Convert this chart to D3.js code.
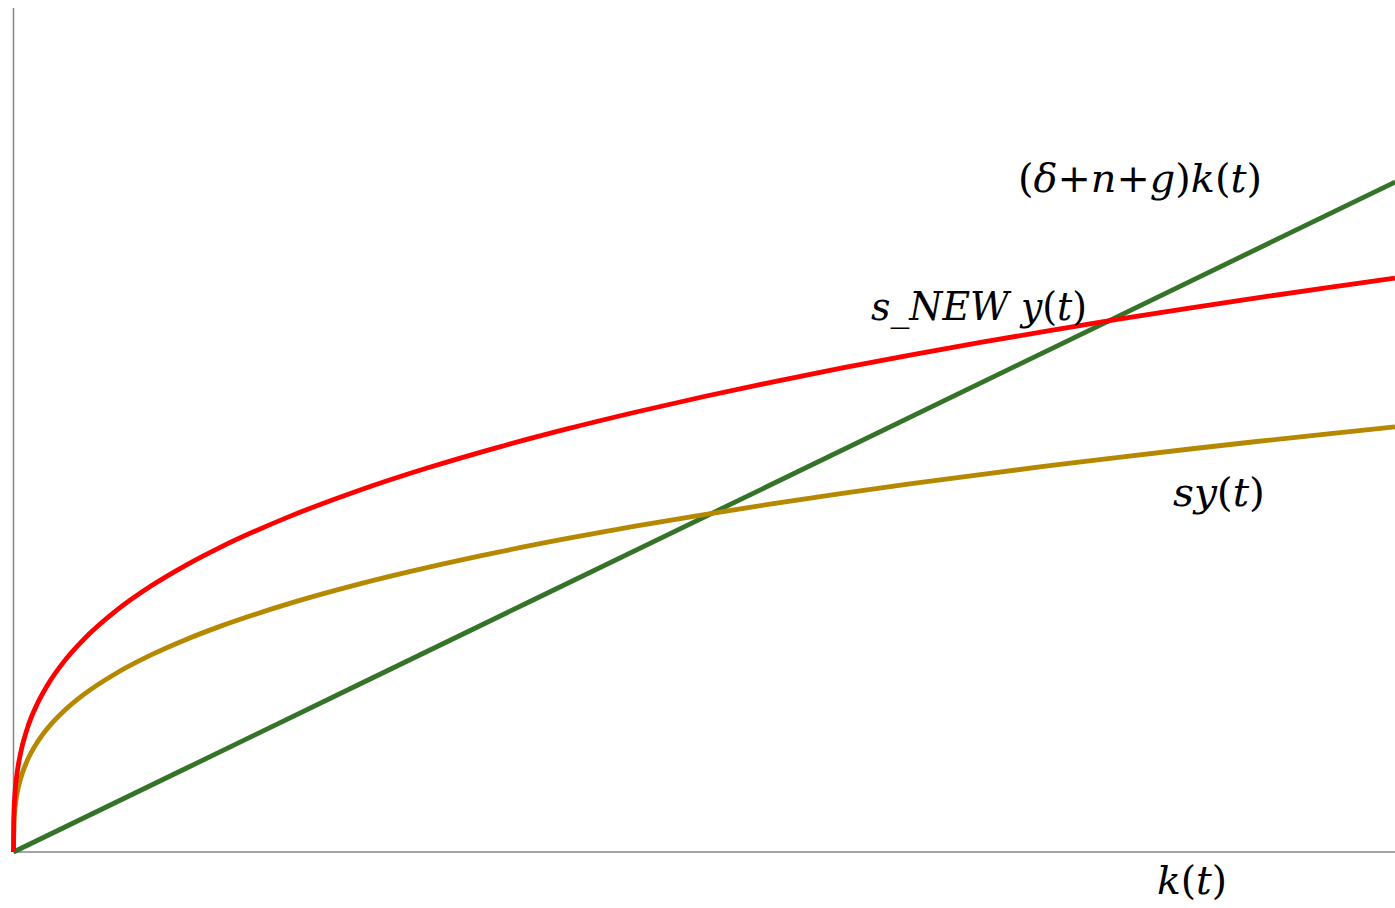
<!DOCTYPE html>
<html>
<head>
<meta charset="utf-8">
<script src="https://cdn.jsdelivr.net/npm/d3@7"></script>
<style>
  html, body { margin: 0; padding: 0; background: #fff; }
  svg { display: block; }
  .lbl { font-family: "DejaVu Serif", serif; font-size: 40px; fill: #000; }
  .it { font-style: italic; }
</style>
</head>
<body>
<svg id="chart" width="1395" height="908"></svg>
<script>
// Capital per effective worker k(t)
const kValues = [0, 0.005, 0.02, 0.05, 0.1, 0.2, 0.35, 0.5, 0.75, 1, 1.5, 2, 2.5, 3,
  4, 5, 6, 7, 8, 9, 10, 11, 12, 13, 14, 15, 16, 17, 18, 19, 20];

// Saving curve sy(t) at the original saving rate
const syValues = [0, 0.0508, 0.0806, 0.1094, 0.1378, 0.1736, 0.2092, 0.2357, 0.2698, 0.2969,
  0.3399, 0.3741, 0.403, 0.4282, 0.4713, 0.5078, 0.5395, 0.568, 0.5939, 0.6176, 0.6397,
  0.6604, 0.6798, 0.6982, 0.7156, 0.7323, 0.7482, 0.7635, 0.7782, 0.7923, 0.806];

// Saving curve at the higher saving rate s_NEW
const sNewValues = [0, 0.0685, 0.1088, 0.1476, 0.186, 0.2344, 0.2824, 0.3181, 0.3642, 0.4008,
  0.4588, 0.505, 0.544, 0.5781, 0.6363, 0.6854, 0.7283, 0.7667, 0.8016, 0.8337, 0.8635,
  0.8914, 0.9176, 0.9424, 0.966, 0.9886, 1.01, 1.0306, 1.0505, 1.0695, 1.088];

// Break-even investment (δ+n+g)k(t)
const breakEvenK = [0, 5, 10, 15, 20];
const breakEvenValues = [0, 0.3175, 0.635, 0.9525, 1.27];

const svg = d3.select("#chart");
const plotLeft = 13.5, plotRight = 1395, plotTop = 8, plotBottom = 852;

const x = d3.scaleLinear().domain([0, 20]).range([plotLeft, plotRight]);
const y = d3.scaleLinear().domain([0, 1.6]).range([plotBottom, plotTop]);

const line = d3.line().x(d => x(d[0])).y(d => y(d[1])).curve(d3.curveMonotoneX);

// axes (plain lines, no ticks)
svg.append("line").attr("x1", plotLeft).attr("x2", plotLeft).attr("y1", plotTop).attr("y2", plotBottom)
  .attr("stroke", "#868686").attr("stroke-width", 1.5);
svg.append("line").attr("x1", plotLeft).attr("x2", plotRight).attr("y1", plotBottom).attr("y2", plotBottom)
  .attr("stroke", "#868686").attr("stroke-width", 1.5);

const series = [
  { pts: d3.zip(breakEvenK, breakEvenValues), color: "#357329" },
  { pts: d3.zip(kValues, syValues), color: "#b58800" },
  { pts: d3.zip(kValues, sNewValues), color: "#ff0000" }
];

svg.selectAll("path.series").data(series).join("path")
  .attr("class", "series")
  .attr("d", d => line(d.pts))
  .attr("fill", "none")
  .attr("stroke", d => d.color)
  .attr("stroke-width", 4.8)
  .attr("stroke-linejoin", "round");

// Labels: italic letters, upright brackets and operators
function label(parts, xPos, yPos, width) {
  const t = svg.append("text").attr("class", "lbl").attr("x", xPos).attr("y", yPos)
    .attr("textLength", width).attr("lengthAdjust", "spacingAndGlyphs");
  parts.forEach(p => {
    t.append("tspan").attr("class", p[1] ? "it" : null).text(p[0]);
  });
}

label([["(", 0], ["δ", 1], ["+", 0], ["n", 1], ["+", 0], ["g", 1], [")", 0], ["k", 1], ["(", 0], ["t", 1], [")", 0]], 1018, 192, 244);
label([["s_NEW y", 1], ["(", 0], ["t", 1], [")", 0]], 871, 320, 216);
label([["sy", 1], ["(", 0], ["t", 1], [")", 0]], 1173, 506, 92);
label([["k", 1], ["(", 0], ["t", 1], [")", 0]], 1157, 894, 70);
</script>
</body>
</html>
